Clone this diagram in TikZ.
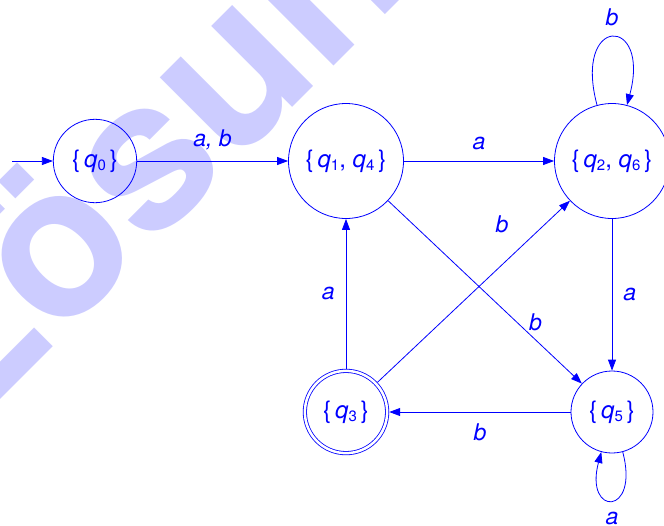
\documentclass[tikz,border=0pt]{standalone}
\usepackage{fontspec}
\setmainfont{TeX Gyre Heros}
\usetikzlibrary{arrows.meta}
\definecolor{ink}{RGB}{0,0,255}
\definecolor{wm}{RGB}{204,204,255}
% state name q with an upright, lowered subscript
\newcommand{\qsub}[1]{\textit{q}\raisebox{-3.5pt}{\fontsize{15}{15}\selectfont #1}}
% set of states written with braces
\newcommand{\stset}[1]{\{\,#1\,\}}
\begin{document}
\begin{tikzpicture}[x=1pt,y=1pt,
  >={Triangle[length=11pt,width=8pt]},
  every node/.style={text=ink, font=\fontsize{24}{28}\selectfont},
  state/.style={circle, draw=ink, line width=0.8pt, inner sep=0pt},
  smallstate/.style={state, minimum size=83.4pt},
  largestate/.style={state, minimum size=115pt},
  acceptstate/.style={state, minimum size=82.3pt, double, double distance=2.5pt, outer sep=2.05pt},
  edge/.style={draw=ink, line width=0.8pt, ->},
  lbl/.style={auto, inner sep=11pt, font=\fontsize{23}{27}\selectfont\itshape}
]
\useasboundingbox (0,0) rectangle (664,-525);

% watermark behind the automaton
\node[rotate=45, anchor=base west, inner sep=0pt, text=wm,
      font=\fontsize{212}{212}\selectfont\bfseries] (wmark) at (-34,-434) {Lösung};

% states
\node[smallstate]  (q0)  at (95,-161)  {\stset{\qsub{0}}};
\node[largestate]  (q14) at (346,-161) {\stset{\qsub{1}, \qsub{4}}};
\node[largestate]  (q26) at (612,-161) {\stset{\qsub{2}, \qsub{6}}};
\node[acceptstate] (q3)  at (346,-412) {\stset{\qsub{3}}};
\node[smallstate, minimum size=82pt] (q5) at (612,-412) {\stset{\qsub{5}}};
\coordinate (init) at (12,-161);

% transitions
\draw[edge] (init) -- (q0);
\draw[edge] (q0) -- node[lbl] {a, b} (q14);
\draw[edge] (q14) -- node[lbl] {a} (q26);
\draw[edge] (q26) to[loop above] node[lbl] {b} (q26);
\draw[edge] (q26) -- node[lbl] {a} (q5);
\draw[edge] (q5) to[loop below] node[lbl] {a} (q5);
\draw[edge] (q5) -- node[lbl] {b} (q3);
\draw[edge] (q3) -- node[lbl] {a} (q14);
\draw[edge] (q3) -- node[lbl, pos=0.75, inner sep=13pt] {b} (q26);
\draw[edge] (q14) -- node[lbl, pos=0.72, inner sep=1pt] {b} (q5);
\end{tikzpicture}
\end{document}
